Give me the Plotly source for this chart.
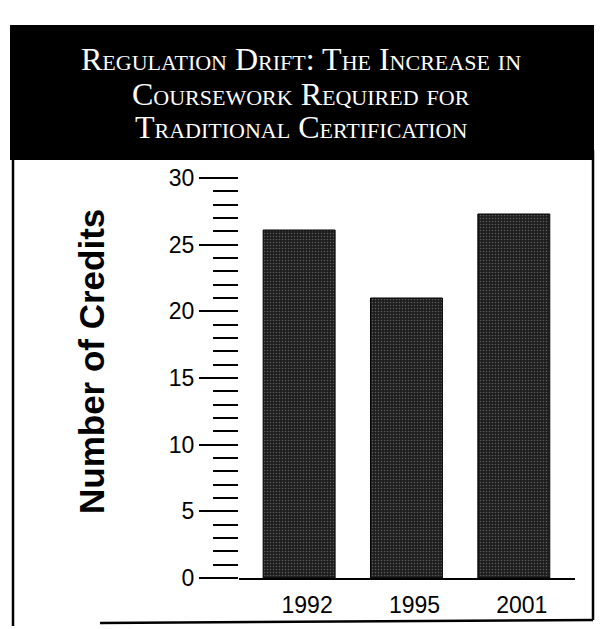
import plotly.graph_objects as go

W, H = 601, 629

years = ["1992", "1995", "2001"]
credits = [26.1, 21.0, 27.3]
title_lines = ["Regulation Drift: The Increase in", "Coursework Required for", "Traditional Certification"]
y_title = "Number of Credits"

def px(x):
    return x / W

def py(y):
    return 1 - y / H

fig = go.Figure()
fig.add_trace(go.Bar(
    x=years, y=credits, width=0.67,
    marker=dict(color="#1e1e1e",
                line=dict(color="black", width=1),
                pattern=dict(shape=".", fgcolor="#9a9a9a", bgcolor="#1e1e1e", size=3, solidity=0.2)),
    hoverinfo="skip",
))

fig.update_layout(
    width=W, height=H,
    margin=dict(l=0, r=0, t=0, b=0, pad=0, autoexpand=False),
    paper_bgcolor="white", plot_bgcolor="white",
    showlegend=False,
    xaxis=dict(domain=[px(239), px(575)], range=[-0.56, 2.57],
               showline=True, linecolor="black", linewidth=1.5,
               showgrid=False, zeroline=False, ticks="", automargin=False,
               tickfont=dict(family="Liberation Sans", size=23, color="black"),
               ticklabelshift=8, ticklabelstandoff=6),
    yaxis=dict(domain=[py(578), py(178)], range=[0, 30],
               tickvals=[0, 5, 10, 15, 20, 25, 30], automargin=False,
               ticks="outside", ticklen=39, tickwidth=1.5, tickcolor="black",
               minor=dict(dtick=1, ticks="outside", ticklen=25, tickwidth=1.5, tickcolor="black"),
               showgrid=False, zeroline=False, showline=False,
               tickfont=dict(family="Liberation Sans", size=23, color="black")),
)

# title box
fig.add_shape(type="rect", xref="paper", yref="paper",
              x0=px(10), x1=px(594), y0=py(160), y1=py(25),
              fillcolor="black", line=dict(color="black", width=0), layer="below")
# panel border
fig.add_shape(type="line", xref="paper", yref="paper", x0=px(13), x1=px(13), y0=py(160), y1=py(626),
              line=dict(color="black", width=2.5))
fig.add_shape(type="line", xref="paper", yref="paper", x0=px(593), x1=px(593), y0=py(150), y1=py(620),
              line=dict(color="black", width=2.5))
fig.add_shape(type="line", xref="paper", yref="paper", x0=px(100), x1=px(593), y0=py(623), y1=py(620),
              line=dict(color="black", width=2.5))

title_y = [59, 94, 127]
for t, yy in zip(title_lines, title_y):
    fig.add_annotation(x=px(301), y=py(yy), xref="paper", yref="paper",
                       text=t, showarrow=False, xanchor="center", yanchor="middle",
                       font=dict(family="Liberation Serif", size=32, color="white", variant="small-caps"))

fig.add_annotation(x=px(91), y=py(362), xref="paper", yref="paper",
                   text="<b>" + y_title + "</b>", textangle=-90, showarrow=False,
                   xanchor="center", yanchor="middle",
                   font=dict(family="Liberation Sans", size=35, color="black"))

fig.write_html("out.html", config={"displayModeBar": False},
               post_script="document.body.style.margin='0';document.body.style.overflow='hidden';")
